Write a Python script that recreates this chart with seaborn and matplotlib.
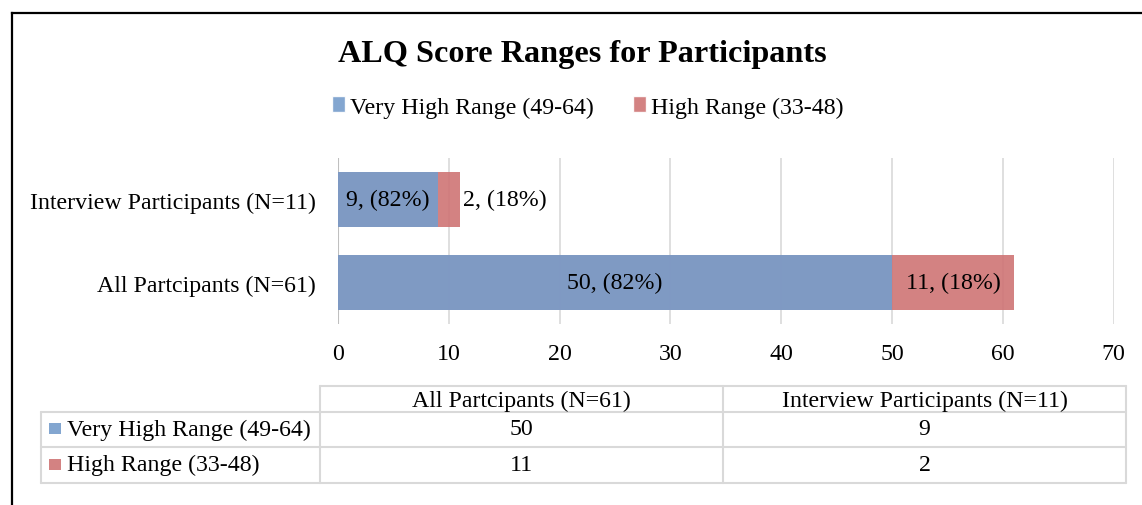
import numpy as np
import pandas as pd
import seaborn as sns
import matplotlib.pyplot as plt
from matplotlib.patches import Patch

# data, in table order
categories = ["All Partcipants (N=61)", "Interview Participants (N=11)"]
series = ["Very High Range (49-64)", "High Range (33-48)"]
very_high = [50, 9]
high = [11, 2]
x_ticks = [0, 10, 20, 30, 40, 50, 60, 70]

BLUE = "#769DCB"
RED = "#CF7475"
FONT = ["Liberation Serif", "DejaVu Serif"]
FS = 17.2

sns.set_theme(style="white")
plt.rcParams["font.family"] = FONT
plt.rcParams["text.color"] = "black"

df = pd.DataFrame({"cat": categories, "vh": very_high, "h": high})
df["total"] = df["vh"] + df["h"]
order = categories[::-1]

W, H = 1142, 506
fig = plt.figure(figsize=(W / 100, H / 100), dpi=100)
ax = fig.add_axes([338 / W, 1 - 325 / H, (1113.6 - 338) / W, (325 - 159) / H])

sns.barplot(data=df, x="total", y="cat", order=order, color=RED, alpha=0.9, saturation=1,
            width=0.66, ax=ax, label=series[1], zorder=3, linewidth=0)
sns.barplot(data=df, x="vh", y="cat", order=order, color=BLUE, alpha=0.9, saturation=1,
            width=0.66, ax=ax, label=series[0], zorder=3, linewidth=0)

ax.set_xlim(0, 70)
ax.set_xticks(x_ticks)
ax.set_ylim(1.5, -0.5)
ax.grid(axis="x", color="#D9D9D9", linewidth=1.2, zorder=0)
ax.axvline(0, color="#BFBFBF", linewidth=1.5, zorder=1)
for s in ax.spines.values():
    s.set_visible(False)
ax.set_xlabel("")
ax.set_ylabel("")
ax.tick_params(axis="both", length=0, labelsize=FS, colors="black")
ax.tick_params(axis="y", pad=16)
ax.tick_params(axis="x", pad=14)

# data labels
for i, row in df.set_index("cat").loc[order].reset_index().iterrows():
    tot = row["total"]
    ax.text(row["vh"] / 2, i, f"{row['vh']}, ({round(100 * row['vh'] / tot)}%)",
            ha="center", va="center", fontsize=FS, zorder=5)
    if row["h"] >= 5:
        ax.text(row["vh"] + row["h"] / 2, i, f"{row['h']}, ({round(100 * row['h'] / tot)}%)",
                ha="center", va="center", fontsize=FS, zorder=5)
    else:
        ax.text(tot + 0.25, i, f"{row['h']}, ({round(100 * row['h'] / tot)}%)",
                ha="left", va="center", fontsize=FS, zorder=5)

leg = ax.get_legend()
if leg is not None:
    leg.remove()
handles = [Patch(facecolor=BLUE, alpha=0.9), Patch(facecolor=RED, alpha=0.9)]
fig.legend(handles, series, loc="center", bbox_to_anchor=(588 / W, 1 - 108 / H),
           ncol=2, frameon=False, fontsize=FS, handlelength=0.55, handleheight=0.62,
           handletextpad=0.2, columnspacing=1.65, borderpad=0)

fig.text(582 / W, 1 - 62 / H, "ALQ Score Ranges for Participants", ha="center",
         va="baseline", fontsize=23.2, fontweight="bold")

# overlay in pixel coords for the data table and chart border
ov = fig.add_axes([0, 0, 1, 1], zorder=-1)
ov.set_xlim(0, W)
ov.set_ylim(H, 0)
ov.axis("off")
ov.patch.set_alpha(0)

grid_c = "#D9D9D9"
xl, xh, xm, xr = 41, 320, 723, 1126
yt, yh, y1, y2 = 386.5, 412.5, 447.5, 483.5
lw = 1.5
ov.plot([xh, xr], [yt, yt], color=grid_c, lw=lw)
ov.plot([xl, xr], [yh, yh], color=grid_c, lw=lw)
ov.plot([xl, xr], [y1, y1], color=grid_c, lw=lw)
ov.plot([xl, xr], [y2, y2], color=grid_c, lw=lw)
ov.plot([xl, xl], [yh, y2], color=grid_c, lw=lw)
for xv in (xh, xm, xr):
    ov.plot([xv, xv], [yt, y2], color=grid_c, lw=lw)

col_centers = [(xh + xm) / 2, (xm + xr) / 2]
for c, name in zip(col_centers, categories):
    ov.text(c, (yt + yh) / 2 + 2, name, ha="center", va="center", fontsize=FS)
row_centers = [(yh + y1) / 2, (y1 + y2) / 2]
for rc, name, vals, colr in zip(row_centers, series, [very_high, high], [BLUE, RED]):
    ov.add_patch(plt.Rectangle((49, rc - 6), 12, 11, facecolor=colr, alpha=0.9, lw=0))
    ov.text(67, rc, name, ha="left", va="center", fontsize=FS)
    for c, v in zip(col_centers, vals):
        ov.text(c, rc, str(v), ha="center", va="center", fontsize=FS)

ov.plot([12, W + 5], [14, 14], color="black", lw=1.6, solid_capstyle="projecting")
ov.plot([12, 12], [14, H + 5], color="black", lw=1.6, solid_capstyle="projecting")

fig.savefig("out.png", dpi=100, facecolor="white")
